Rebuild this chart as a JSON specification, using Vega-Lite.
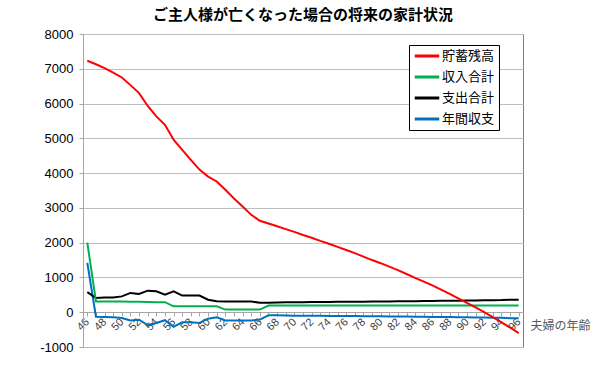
{
  "$schema": "https://vega.github.io/schema/vega-lite/v6.json",
  "width": 440,
  "height": 313,
  "autosize": "none",
  "padding": {"left": 83, "top": 34, "right": 77, "bottom": 19},
  "background": "white",
  "config": {
    "font": "Noto Sans CJK JP",
    "view": {"stroke": "#808080", "strokeWidth": 1}
  },
  "title": {
    "text": "ご主人様が亡くなった場合の将来の家計状況",
    "fontSize": 15,
    "fontWeight": "bold",
    "color": "#000000",
    "anchor": "middle",
    "offset": 5,
    "font": "Noto Sans CJK JP"
  },
  "data": {
    "values": [
      {"age": 46, "貯蓄残高": 7230, "収入合計": 2000, "支出合計": 580, "年間収支": 1420},
      {"age": 47, "貯蓄残高": 7130, "収入合計": 310, "支出合計": 410, "年間収支": -130},
      {"age": 48, "貯蓄残高": 7020, "収入合計": 310, "支出合計": 420, "年間収支": -140},
      {"age": 49, "貯蓄残高": 6890, "収入合計": 310, "支出合計": 425, "年間収支": -145},
      {"age": 50, "貯蓄残高": 6750, "収入合計": 305, "支出合計": 455, "年間収支": -165},
      {"age": 51, "貯蓄残高": 6530, "収入合計": 300, "支出合計": 555, "年間収支": -240},
      {"age": 52, "貯蓄残高": 6300, "収入合計": 300, "支出合計": 525, "年間収支": -215},
      {"age": 53, "貯蓄残高": 5930, "収入合計": 295, "支出合計": 620, "年間収支": -370},
      {"age": 54, "貯蓄残高": 5630, "収入合計": 290, "支出合計": 600, "年間収支": -310},
      {"age": 55, "貯蓄残高": 5390, "収入合計": 290, "支出合計": 505, "年間収支": -230},
      {"age": 56, "貯蓄残高": 4960, "収入合計": 170, "支出合計": 600, "年間収支": -420},
      {"age": 57, "貯蓄残高": 4670, "収入合計": 170, "支出合計": 480, "年間収支": -290},
      {"age": 58, "貯蓄残高": 4380, "収入合計": 170, "支出合計": 480, "年間収支": -290},
      {"age": 59, "貯蓄残高": 4100, "収入合計": 170, "支出合計": 480, "年間収支": -310},
      {"age": 60, "貯蓄残高": 3900, "収入合計": 170, "支出合計": 360, "年間収支": -185},
      {"age": 61, "貯蓄残高": 3760, "収入合計": 170, "支出合計": 315, "年間収支": -145},
      {"age": 62, "貯蓄残高": 3520, "収入合計": 75, "支出合計": 310, "年間収支": -235},
      {"age": 63, "貯蓄残高": 3270, "収入合計": 75, "支出合計": 310, "年間収支": -235},
      {"age": 64, "貯蓄残高": 3040, "収入合計": 75, "支出合計": 310, "年間収支": -235},
      {"age": 65, "貯蓄残高": 2800, "収入合計": 75, "支出合計": 310, "年間収支": -240},
      {"age": 66, "貯蓄残高": 2630, "収入合計": 75, "支出合計": 270, "年間収支": -210},
      {"age": 67, "貯蓄残高": 2550, "収入合計": 190, "支出合計": 275, "年間収支": -88},
      {"age": 68, "貯蓄残高": 2470, "収入合計": 190, "支出合計": 280, "年間収支": -90},
      {"age": 69, "貯蓄残高": 2390, "収入合計": 190, "支出合計": 285, "年間収支": -95},
      {"age": 70, "貯蓄残高": 2310, "収入合計": 190, "支出合計": 290, "年間収支": -100},
      {"age": 71, "貯蓄残高": 2220, "収入合計": 190, "支出合計": 290, "年間収支": -100},
      {"age": 72, "貯蓄残高": 2140, "収入合計": 190, "支出合計": 292, "年間収支": -102},
      {"age": 73, "貯蓄残高": 2050, "収入合計": 190, "支出合計": 294, "年間収支": -104},
      {"age": 74, "貯蓄残高": 1970, "収入合計": 190, "支出合計": 296, "年間収支": -106},
      {"age": 75, "貯蓄残高": 1880, "収入合計": 190, "支出合計": 298, "年間収支": -108},
      {"age": 76, "貯蓄残高": 1790, "収入合計": 190, "支出合計": 300, "年間収支": -110},
      {"age": 77, "貯蓄残高": 1700, "収入合計": 190, "支出合計": 302, "年間収支": -112},
      {"age": 78, "貯蓄残高": 1600, "収入合計": 190, "支出合計": 304, "年間収支": -114},
      {"age": 79, "貯蓄残高": 1500, "収入合計": 190, "支出合計": 306, "年間収支": -116},
      {"age": 80, "貯蓄残高": 1410, "収入合計": 190, "支出合計": 308, "年間収支": -118},
      {"age": 81, "貯蓄残高": 1310, "収入合計": 190, "支出合計": 310, "年間収支": -120},
      {"age": 82, "貯蓄残高": 1210, "収入合計": 190, "支出合計": 312, "年間収支": -122},
      {"age": 83, "貯蓄残高": 1100, "収入合計": 190, "支出合計": 315, "年間収支": -125},
      {"age": 84, "貯蓄残高": 990, "収入合計": 190, "支出合計": 318, "年間収支": -128},
      {"age": 85, "貯蓄残高": 880, "収入合計": 190, "支出合計": 321, "年間収支": -131},
      {"age": 86, "貯蓄残高": 770, "収入合計": 190, "支出合計": 324, "年間収支": -134},
      {"age": 87, "貯蓄残高": 650, "収入合計": 190, "支出合計": 327, "年間収支": -137},
      {"age": 88, "貯蓄残高": 530, "収入合計": 190, "支出合計": 330, "年間収支": -140},
      {"age": 89, "貯蓄残高": 400, "収入合計": 190, "支出合計": 333, "年間収支": -143},
      {"age": 90, "貯蓄残高": 270, "収入合計": 190, "支出合計": 336, "年間収支": -146},
      {"age": 91, "貯蓄残高": 140, "収入合計": 190, "支出合計": 339, "年間収支": -149},
      {"age": 92, "貯蓄残高": 0, "収入合計": 190, "支出合計": 342, "年間収支": -152},
      {"age": 93, "貯蓄残高": -140, "収入合計": 190, "支出合計": 346, "年間収支": -156},
      {"age": 94, "貯蓄残高": -290, "収入合計": 190, "支出合計": 350, "年間収支": -160},
      {"age": 95, "貯蓄残高": -440, "収入合計": 190, "支出合計": 360, "年間収支": -170},
      {"age": 96, "貯蓄残高": -600, "収入合計": 190, "支出合計": 362, "年間収支": -172}
    ]
  },
  "transform": [
    {"fold": ["年間収支", "支出合計", "収入合計", "貯蓄残高"], "as": ["series", "value"]}
  ],
  "mark": {"type": "line", "strokeWidth": 2},
  "encoding": {
    "x": {
      "field": "age",
      "type": "quantitative",
      "scale": {"domain": [45.5, 96.5], "nice": false, "zero": false},
      "axis": {
        "values": [46,47,48,49,50,51,52,53,54,55,56,57,58,59,60,61,62,63,64,65,66,67,68,69,70,71,72,73,74,75,76,77,78,79,80,81,82,83,84,85,86,87,88,89,90,91,92,93,94,95,96],
        "labelExpr": "datum.value % 2 == 0 ? datum.label : ''",
        "offset": -35,
        "grid": false,
        "labelAngle": -45,
        "labelAlign": "right",
        "labelBaseline": "middle",
        "labelFontSize": 11,
        "labelColor": "#404040",
        "labelFont": "Liberation Sans",
        "labelPadding": 4,
        "tickSize": 4,
        "tickColor": "#A6A6A6",
        "domainColor": "#A6A6A6",
        "title": "夫婦の年齢",
        "titleFontSize": 12,
        "titleFontWeight": "normal",
        "titleColor": "#595959",
        "titleX": 447,
        "titleY": 13,
        "titleAlign": "left",
        "titleAnchor": "start",
        "titleBaseline": "middle",
        "labelOverlap": false
      }
    },
    "y": {
      "field": "value",
      "type": "quantitative",
      "scale": {"domain": [-1000, 8000], "nice": false},
      "axis": {
        "values": [-1000, 0, 1000, 2000, 3000, 4000, 5000, 6000, 7000, 8000],
        "labelExpr": "'' + datum.value",
        "title": null,
        "labelFontSize": 13,
        "labelColor": "#000000",
        "labelFont": "Liberation Sans",
        "labelPadding": 6,
        "tickSize": 4,
        "tickColor": "#A6A6A6",
        "domainColor": "#A6A6A6",
        "gridColor": "#BFBFBF",
        "gridWidth": 1.2
      }
    },
    "color": {
      "field": "series",
      "type": "nominal",
      "scale": {
        "domain": ["貯蓄残高", "収入合計", "支出合計", "年間収支"],
        "range": ["#FF0000", "#00B050", "#000000", "#0070C0"]
      },
      "legend": {
        "title": null,
        "orient": "none",
        "legendX": 326,
        "legendY": 11,
        "strokeColor": "#000000",
        "fillColor": "#FFFFFF",
        "padding": 4,
        "symbolType": "stroke",
        "symbolSize": 600,
        "symbolStrokeWidth": 3,
        "labelFontSize": 13,
        "labelColor": "#000000",
        "labelOffset": 1,
        "clipHeight": 14,
        "rowPadding": 7,
        "labelFont": "Noto Sans CJK JP"
      }
    }
  }
}
